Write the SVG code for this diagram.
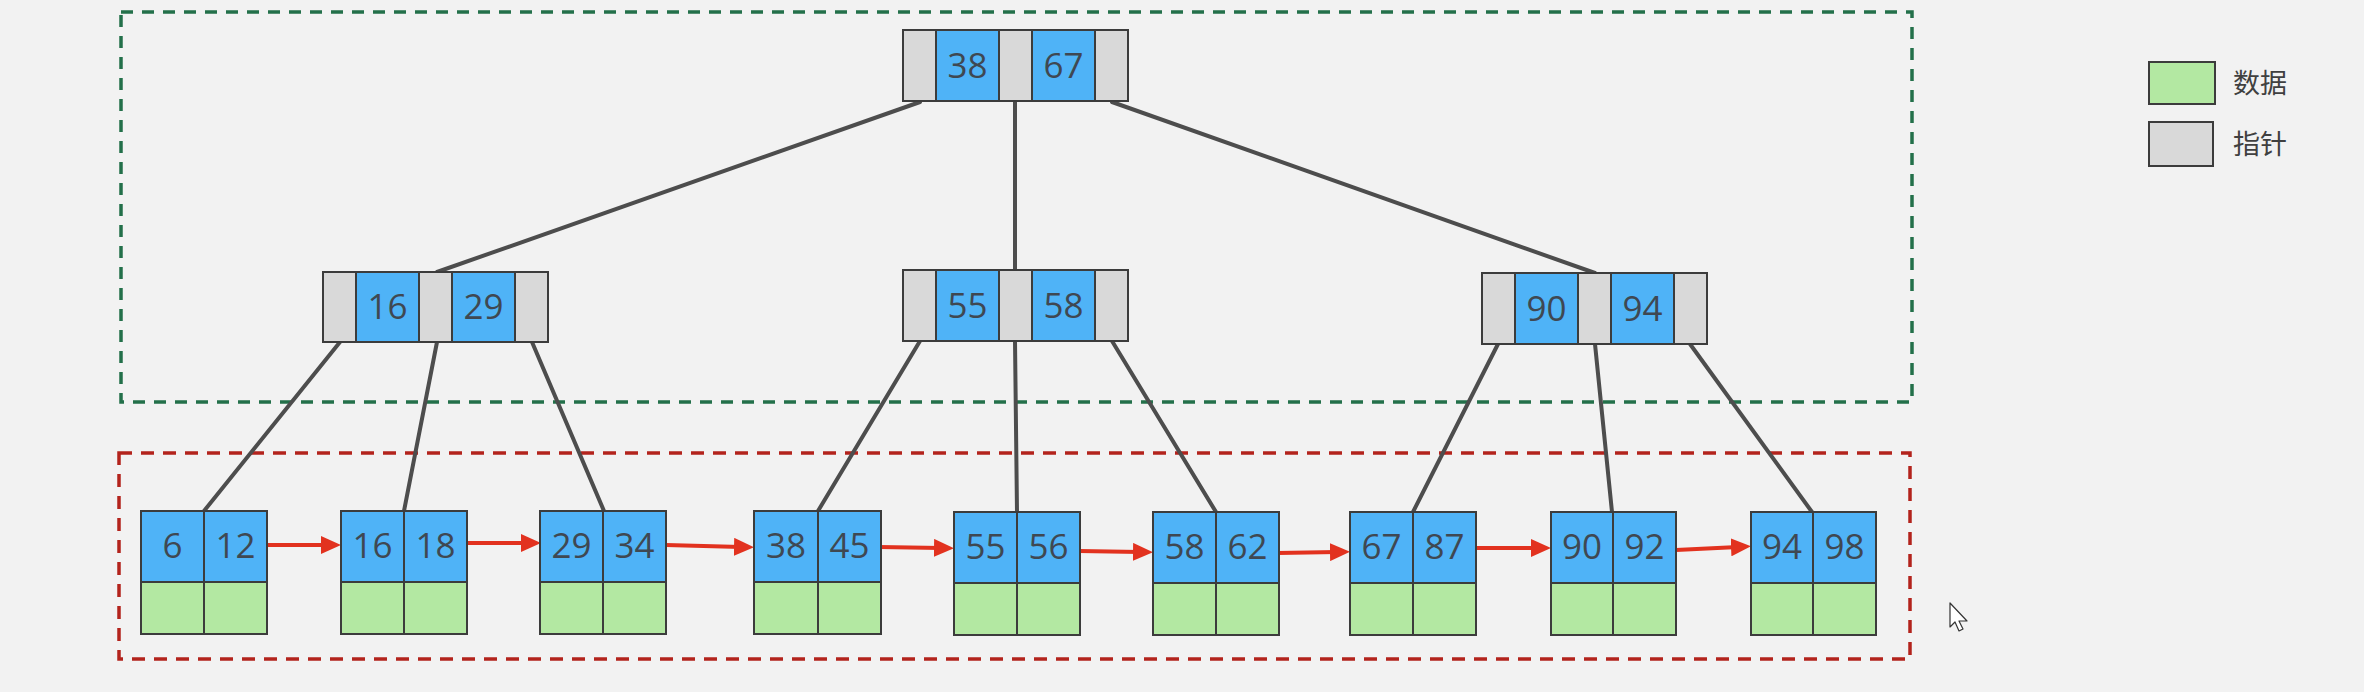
<svg xmlns="http://www.w3.org/2000/svg" width="2364" height="692" viewBox="0 0 2364 692">
<defs>
<style>
.bg{fill:#f2f2f2}
.p{fill:#d9d9d9;stroke:#3c3c3c;stroke-width:2}
.k{fill:#4fb3f7;stroke:#3c3c3c;stroke-width:2}
.d{fill:#b3e8a2;stroke:#3c3c3c;stroke-width:2}
.n{font-family:"Open Sans","Noto Sans","DejaVu Sans",sans-serif;font-size:35px;fill:#3f4852;text-anchor:middle}
.lg{font-family:"Noto Sans CJK SC","Noto Sans",sans-serif;font-size:27px;fill:#404040}
.tree{stroke:#4d4d4d;stroke-width:4;fill:none;stroke-linecap:round}
.link{stroke:#e2321f;stroke-width:4;fill:none}
</style>
<marker id="ah" markerUnits="userSpaceOnUse" markerWidth="20" markerHeight="18" viewBox="0 0 20 18" refX="7" refY="9" orient="auto">
<path d="M0,0 L20,9 L0,18 z" fill="#e2321f"/>
</marker>
</defs>
<rect class="bg" x="0" y="0" width="2364" height="692"/>

<g id="regions">
<rect x="121" y="12" width="1791" height="390" fill="none" stroke="#23704a" stroke-width="3.5" stroke-dasharray="12 9"/>
<rect x="119" y="453" width="1791" height="206" fill="none" stroke="#b3231c" stroke-width="3.5" stroke-dasharray="13 9"/>
</g>

<g id="connectors">
<line class="tree" x1="920" y1="102" x2="437" y2="272"/>
<line class="tree" x1="1015" y1="102" x2="1015" y2="270"/>
<line class="tree" x1="1112" y1="102" x2="1595" y2="273"/>
<line class="tree" x1="340" y1="342" x2="204" y2="511"/>
<line class="tree" x1="437" y1="342" x2="404" y2="511"/>
<line class="tree" x1="532" y1="342" x2="604" y2="511"/>
<line class="tree" x1="920" y1="341" x2="818" y2="511"/>
<line class="tree" x1="1015" y1="341" x2="1017" y2="512"/>
<line class="tree" x1="1112" y1="341" x2="1216" y2="512"/>
<line class="tree" x1="1498" y1="344" x2="1413" y2="512"/>
<line class="tree" x1="1595" y1="344" x2="1612" y2="512"/>
<line class="tree" x1="1690" y1="344" x2="1812" y2="512"/>
<line class="link" x1="267" y1="545" x2="328" y2="545" marker-end="url(#ah)"/>
<line class="link" x1="466" y1="543" x2="528" y2="543" marker-end="url(#ah)"/>
<line class="link" x1="666" y1="545" x2="741" y2="547" marker-end="url(#ah)"/>
<line class="link" x1="879" y1="547" x2="941" y2="548" marker-end="url(#ah)"/>
<line class="link" x1="1079" y1="551" x2="1140" y2="552" marker-end="url(#ah)"/>
<line class="link" x1="1278" y1="553" x2="1337" y2="552" marker-end="url(#ah)"/>
<line class="link" x1="1475" y1="548" x2="1538" y2="548" marker-end="url(#ah)"/>
<line class="link" x1="1676" y1="550" x2="1738" y2="547" marker-end="url(#ah)"/>
</g>

<g id="root">
<rect class="p" x="903" y="30" width="33" height="71"/>
<rect class="k" x="936" y="30" width="63" height="71"/>
<rect class="p" x="999" y="30" width="33" height="71"/>
<rect class="k" x="1032" y="30" width="63" height="71"/>
<rect class="p" x="1095" y="30" width="33" height="71"/>
<text class="n" x="967.5" y="78">38</text>
<text class="n" x="1063.5" y="78">67</text>
</g>

<g id="inner-16-29">
<rect class="p" x="323" y="272" width="33" height="70"/>
<rect class="k" x="356" y="272" width="63" height="70"/>
<rect class="p" x="419" y="272" width="33" height="70"/>
<rect class="k" x="452" y="272" width="63" height="70"/>
<rect class="p" x="515" y="272" width="33" height="70"/>
<text class="n" x="387.5" y="319">16</text>
<text class="n" x="483.5" y="319">29</text>
</g>

<g id="inner-55-58">
<rect class="p" x="903" y="270" width="33" height="71"/>
<rect class="k" x="936" y="270" width="63" height="71"/>
<rect class="p" x="999" y="270" width="33" height="71"/>
<rect class="k" x="1032" y="270" width="63" height="71"/>
<rect class="p" x="1095" y="270" width="33" height="71"/>
<text class="n" x="967.5" y="318">55</text>
<text class="n" x="1063.5" y="318">58</text>
</g>

<g id="inner-90-94">
<rect class="p" x="1482" y="273" width="33" height="71"/>
<rect class="k" x="1515" y="273" width="63" height="71"/>
<rect class="p" x="1578" y="273" width="33" height="71"/>
<rect class="k" x="1611" y="273" width="63" height="71"/>
<rect class="p" x="1674" y="273" width="33" height="71"/>
<text class="n" x="1546.5" y="321">90</text>
<text class="n" x="1642.5" y="321">94</text>
</g>

<g id="leaf-6-12">
<rect class="k" x="141" y="511" width="63" height="71"/><rect class="k" x="204" y="511" width="63" height="71"/>
<rect class="d" x="141" y="582" width="63" height="52"/><rect class="d" x="204" y="582" width="63" height="52"/>
<text class="n" x="172.5" y="558">6</text><text class="n" x="235.5" y="558">12</text>
</g>
<g id="leaf-16-18">
<rect class="k" x="341" y="511" width="63" height="71"/><rect class="k" x="404" y="511" width="63" height="71"/>
<rect class="d" x="341" y="582" width="63" height="52"/><rect class="d" x="404" y="582" width="63" height="52"/>
<text class="n" x="372.5" y="558">16</text><text class="n" x="435.5" y="558">18</text>
</g>
<g id="leaf-29-34">
<rect class="k" x="540" y="511" width="63" height="71"/><rect class="k" x="603" y="511" width="63" height="71"/>
<rect class="d" x="540" y="582" width="63" height="52"/><rect class="d" x="603" y="582" width="63" height="52"/>
<text class="n" x="571.5" y="558">29</text><text class="n" x="634.5" y="558">34</text>
</g>
<g id="leaf-38-45">
<rect class="k" x="754" y="511" width="64" height="71"/><rect class="k" x="818" y="511" width="63" height="71"/>
<rect class="d" x="754" y="582" width="64" height="52"/><rect class="d" x="818" y="582" width="63" height="52"/>
<text class="n" x="786" y="558">38</text><text class="n" x="849.5" y="558">45</text>
</g>
<g id="leaf-55-56">
<rect class="k" x="954" y="512" width="63" height="71"/><rect class="k" x="1017" y="512" width="63" height="71"/>
<rect class="d" x="954" y="583" width="63" height="52"/><rect class="d" x="1017" y="583" width="63" height="52"/>
<text class="n" x="985.5" y="559">55</text><text class="n" x="1048.5" y="559">56</text>
</g>
<g id="leaf-58-62">
<rect class="k" x="1153" y="512" width="63" height="71"/><rect class="k" x="1216" y="512" width="63" height="71"/>
<rect class="d" x="1153" y="583" width="63" height="52"/><rect class="d" x="1216" y="583" width="63" height="52"/>
<text class="n" x="1184.5" y="559">58</text><text class="n" x="1247.5" y="559">62</text>
</g>
<g id="leaf-67-87">
<rect class="k" x="1350" y="512" width="63" height="71"/><rect class="k" x="1413" y="512" width="63" height="71"/>
<rect class="d" x="1350" y="583" width="63" height="52"/><rect class="d" x="1413" y="583" width="63" height="52"/>
<text class="n" x="1381.5" y="559">67</text><text class="n" x="1444.5" y="559">87</text>
</g>
<g id="leaf-90-92">
<rect class="k" x="1551" y="512" width="62" height="71"/><rect class="k" x="1613" y="512" width="63" height="71"/>
<rect class="d" x="1551" y="583" width="62" height="52"/><rect class="d" x="1613" y="583" width="63" height="52"/>
<text class="n" x="1582" y="559">90</text><text class="n" x="1644.5" y="559">92</text>
</g>
<g id="leaf-94-98">
<rect class="k" x="1751" y="512" width="62" height="71"/><rect class="k" x="1813" y="512" width="63" height="71"/>
<rect class="d" x="1751" y="583" width="62" height="52"/><rect class="d" x="1813" y="583" width="63" height="52"/>
<text class="n" x="1782" y="559">94</text><text class="n" x="1844.5" y="559">98</text>
</g>

<g id="legend">
<rect class="d" x="2149" y="62" width="66" height="42"/>
<text class="lg" x="2233" y="93">数据</text>
<rect class="p" x="2149" y="122" width="64" height="44"/>
<text class="lg" x="2233" y="154">指针</text>
</g>

<g id="cursor">
<polygon points="1950,603 1950,627 1955,622 1959,631 1963,629 1959,621 1967,621" fill="#ffffff" stroke="#333333" stroke-width="1.2" stroke-linejoin="round"/>
</g>
</svg>
